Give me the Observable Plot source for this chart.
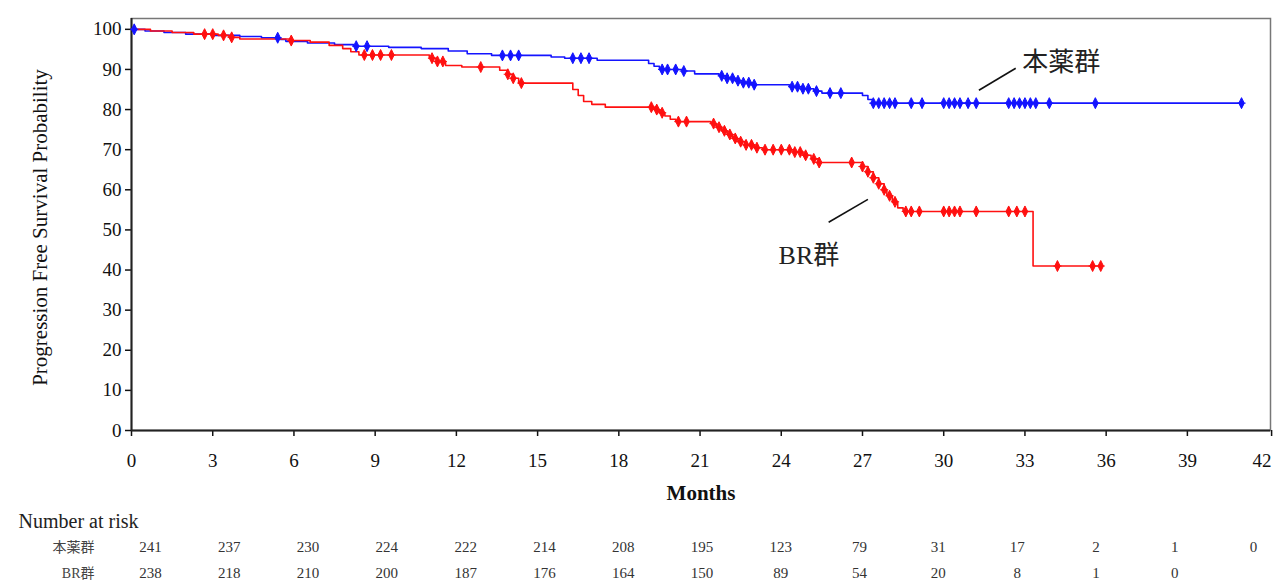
<!DOCTYPE html>
<html>
<head>
<meta charset="utf-8">
<script src="https://cdn.jsdelivr.net/npm/d3@7"></script>
<script src="https://cdn.jsdelivr.net/npm/@observablehq/plot@0.6"></script>
<style>
  html, body { margin: 0; padding: 0; background: #fff; }
  svg { display: block; }
</style>
</head>
<body>
<div id="chart"></div>
<script>
// ---------- data ----------
const groupA = "本薬群";
const groupB = "BR群";

// Kaplan-Meier steps (months, % progression free)
const timeA = [0, 0.5, 1.2, 2.0, 3.0, 4.0, 4.8, 5.5, 5.7, 6.5, 7.5, 8.2, 9.5, 10.7, 11.7, 12.4, 13.3, 15.5, 16.0, 17.2, 19.1, 19.3, 19.5, 20.4, 20.8, 21.7, 22.0, 22.3, 22.6, 22.9, 24.3, 24.8, 25.2, 25.5, 27.0, 27.2, 27.4];
const survA = [100, 99.6, 99.2, 98.8, 98.5, 98.2, 97.9, 97.5, 97.0, 96.6, 96.2, 95.8, 95.5, 95.2, 94.6, 93.9, 93.5, 93.1, 92.8, 92.3, 91.5, 90.8, 90.0, 89.6, 88.9, 88.4, 87.8, 87.2, 86.7, 86.2, 85.7, 85.2, 84.6, 84.1, 83.5, 82.5, 81.6];
const censorA = [0.1, 5.4, 8.3, 8.7, 13.7, 14.0, 14.3, 16.3, 16.6, 16.9, 19.6, 19.8, 20.1, 20.4, 21.8, 22.0, 22.2, 22.4, 22.6, 22.8, 23.0, 24.4, 24.6, 24.8, 25.0, 25.3, 25.8, 26.2, 27.4, 27.6, 27.8, 28.0, 28.2, 28.8, 29.2, 30.0, 30.2, 30.4, 30.6, 30.9, 31.2, 32.4, 32.6, 32.8, 33.0, 33.2, 33.4, 33.9, 35.6, 41.0];

const timeB = [0, 0.7, 1.5, 2.3, 3.2, 3.6, 4.0, 5.9, 6.6, 7.3, 7.8, 8.1, 8.4, 11.0, 11.3, 11.6, 12.2, 13.6, 13.9, 14.1, 14.3, 16.3, 16.5, 16.7, 17.0, 17.5, 19.3, 19.5, 19.7, 19.9, 20.1, 21.4, 21.6, 21.8, 22.0, 22.2, 22.4, 22.7, 23.0, 23.3, 24.5, 24.8, 25.1, 25.4, 27.0, 27.2, 27.4, 27.6, 27.8, 27.9, 28.1, 28.3, 28.5, 33.3];
const survB = [100, 99.6, 99.2, 98.8, 98.5, 98.0, 97.6, 97.2, 96.8, 96.0, 95.2, 94.4, 93.6, 92.8, 92.0, 91.0, 90.6, 89.8, 88.8, 87.8, 86.6, 85.0, 83.5, 82.0, 81.3, 80.6, 80.0, 79.2, 78.4, 77.6, 77.0, 76.5, 75.6, 74.7, 73.8, 72.8, 72.0, 71.2, 70.5, 70.0, 69.4, 68.6, 67.7, 66.8, 65.8, 64.5, 63.0, 61.5, 60.0, 58.5, 57.0, 55.5, 54.6, 41.0];
const censorB = [2.7, 3.0, 3.4, 3.7, 5.9, 8.6, 8.9, 9.2, 9.6, 11.1, 11.3, 11.5, 12.9, 13.9, 14.1, 14.4, 19.2, 19.4, 19.6, 20.2, 20.5, 21.5, 21.7, 21.9, 22.1, 22.3, 22.5, 22.7, 22.9, 23.1, 23.4, 23.7, 24.0, 24.3, 24.5, 24.7, 24.9, 25.2, 25.4, 26.6, 27.0, 27.2, 27.4, 27.6, 27.8, 28.0, 28.2, 28.6, 28.8, 29.1, 30.0, 30.2, 30.4, 30.6, 31.2, 32.4, 32.7, 33.0, 34.2, 35.5, 35.8];

const monthTicks = [0, 3, 6, 9, 12, 15, 18, 21, 24, 27, 30, 33, 36, 39, 42];
const pctTicks = [0, 10, 20, 30, 40, 50, 60, 70, 80, 90, 100];

const atRiskA = [241, 237, 230, 224, 222, 214, 208, 195, 123, 79, 31, 17, 2, 1, 0];
const atRiskB = [238, 218, 210, 200, 187, 176, 164, 150, 89, 54, 20, 8, 1, 0];

// annotations: label anchor and leader line (months, %)
const labelA = {text: groupA, t: 32.9, s: 91.8, t1: 31.3, s1: 84.8, t2: 32.66, s2: 90.3};
const labelB = {text: groupB, t: 23.9, s: 43.6, t1: 25.75, s1: 51.9, t2: 27.2, s2: 57.6};

// ---------- derived tables ----------
const blue = "#1414ff";
const red = "#ff1010";
function stepAt(times, vals, t) {
  let v = vals[0];
  for (let i = 0; i < times.length; i++) if (times[i] <= t) v = vals[i];
  return v;
}
function curve(times, vals, censors) {
  const pts = times.map((t, i) => ({t, s: vals[i]}));
  const last = censors[censors.length - 1];
  pts.push({t: last, s: stepAt(times, vals, last)});
  return pts;
}
const lineA = curve(timeA, survA, censorA);
const lineB = curve(timeB, survB, censorB);
const censA = censorA.map(t => ({t, s: stepAt(timeA, survA, t)}));
const censB = censorB.map(t => ({t, s: stepAt(timeB, survB, t)}));

const censorSymbol = {
  draw(context, size) {
    const r = Math.sqrt(size / Math.PI);
    const w = r * 0.5;
    context.moveTo(0, -r);
    context.lineTo(w, 0);
    context.lineTo(0, r);
    context.lineTo(-w, 0);
    context.closePath();
    context.moveTo(-r * 0.75, 0);
    context.lineTo(r * 0.75, 0);
  }
};

const serif = "'Liberation Serif', 'Times New Roman', 'Noto Sans CJK JP', serif";
const innerTicks = monthTicks.slice(0, -1);
const lastTick = monthTicks.slice(-1);

// ---------- main chart ----------
const main = Plot.plot({
  width: 1274,
  height: 510,
  marginLeft: 131,
  marginRight: 4,
  marginTop: 18,
  marginBottom: 80,
  style: {fontFamily: serif, fontSize: "19px", color: "#111", background: "#fff"},
  x: {domain: [0, 42.07]},
  y: {domain: [0, 102.7]},
  marks: [
    Plot.frame({stroke: "#777", strokeWidth: 1.5}),
    Plot.axisX({ticks: innerTicks, tickSize: 6, tickPadding: 17, label: null, strokeWidth: 1.5}),
    Plot.axisX({ticks: lastTick, tickSize: 6, tickPadding: 17, label: null, strokeWidth: 1.5, textAnchor: "end", dx: 3}),
    Plot.axisY({ticks: pctTicks, tickSize: 6, tickPadding: 4, label: null, strokeWidth: 1.5}),
    Plot.ruleX([0], {stroke: "#222", strokeWidth: 2}),
    Plot.ruleY([0], {stroke: "#222", strokeWidth: 2}),
    Plot.text(["Months"], {frameAnchor: "bottom", dy: 69, fontWeight: "bold", fontSize: 21}),
    Plot.text(["Progression Free Survival Probability"], {frameAnchor: "left", dx: -91, dy: 3, rotate: -90, textAnchor: "middle", fontSize: 21}),
    Plot.line(lineA, {x: "t", y: "s", curve: "step-after", stroke: blue, strokeWidth: 1.6}),
    Plot.line(lineB, {x: "t", y: "s", curve: "step-after", stroke: red, strokeWidth: 1.6}),
    Plot.dot(censA, {x: "t", y: "s", symbol: censorSymbol, r: 5.5, fill: blue, stroke: blue, strokeWidth: 1}),
    Plot.dot(censB, {x: "t", y: "s", symbol: censorSymbol, r: 5.5, fill: red, stroke: red, strokeWidth: 1}),
    Plot.link([labelA, labelB], {x1: "t1", y1: "s1", x2: "t2", y2: "s2", stroke: "#111", strokeWidth: 1.6}),
    Plot.text([labelA, labelB], {x: "t", y: "s", text: "text", textAnchor: "start", fontSize: 26, fill: "#222"})
  ]
});

// ---------- number at risk table ----------
const riskRows = [
  ...atRiskA.map((n, i) => ({g: groupA, t: monthTicks[i], n})),
  ...atRiskB.map((n, i) => ({g: groupB, t: monthTicks[i], n}))
];
const table = Plot.plot({
  width: 1274,
  height: 77,
  marginLeft: 150,
  marginRight: 21,
  marginTop: 0,
  marginBottom: 0,
  style: {fontFamily: serif, fontSize: "15px", color: "#222", background: "#fff"},
  x: {domain: [0, 42], axis: null},
  y: {type: "point", domain: [groupA, groupB], range: [37, 63], padding: 0},
  marks: [
    Plot.axisY({tickSize: 0, tickPadding: 56, label: null, fill: "#444", fontSize: 14}),
    Plot.text(["Number at risk"], {frameAnchor: "top-left", dx: -132, dy: 11, textAnchor: "start", lineAnchor: "middle", fontSize: 20, fill: "#222"}),
    Plot.text(riskRows, {x: "t", y: "g", text: "n", fontSize: 15, fill: "#333"})
  ]
});

const root = document.getElementById("chart");
root.appendChild(main);
root.appendChild(table);
</script>
</body>
</html>
